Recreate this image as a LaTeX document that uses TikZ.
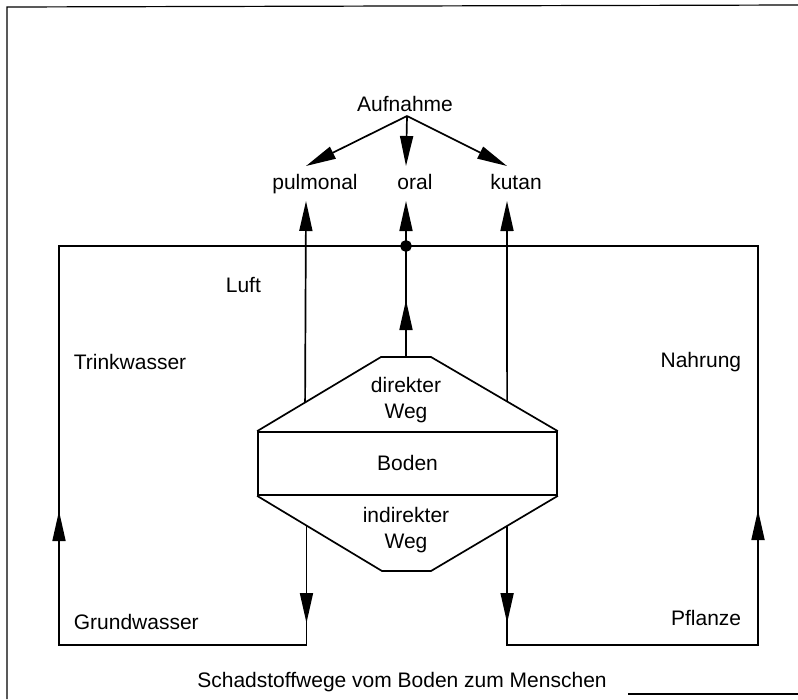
\documentclass[tikz,border=0pt]{standalone}
\usepackage{fontspec}
\setmainfont{Liberation Sans}
\usetikzlibrary{arrows.meta,calc}

\tikzset{
  pfeil/.style={-{Triangle[length=30pt,width=13pt]}},
  txt/.style={font=\fontsize{21}{26}\selectfont, inner sep=0pt, text height=14pt, text depth=0pt},
  txtzwei/.style={font=\fontsize{21}{26}\selectfont, inner sep=0pt, align=center},
  rahmen/.style={line width=1.2pt},
}

\begin{document}
\begin{tikzpicture}[x=1pt,y=-1pt,line width=1.7pt]
            \useasboundingbox (0,0) rectangle (798,699);
            % Rahmen
            \draw[rahmen] (7,699) -- (7,7) -- (798,5);
            \draw[rahmen] (628,694) -- (798,694);
            % Aufnahme
            \node[txt] (aufnahme) at (405,104) {Aufnahme};
            \coordinate (gabel) at (407,116);
            \foreach \name/\x in {pulmonal/306, oral/406, kutan/507} {
                    \node[txt] (\name) at (\x+9,182) {\name};
                    \coordinate (\name-spitze) at (\x,166);
                    \coordinate (\name-ende) at (\x,201);
                    \draw[pfeil] (gabel) -- (\name-spitze);
                }
            % Boden
            \node[draw, txt, minimum width=299pt, minimum height=63pt] (boden) at (407.5,463.5) {Boden};
            \coordinate (oben-l) at (381,357);
            \coordinate (oben-r) at (431,357);
            \coordinate (unten-l) at (382,571);
            \coordinate (unten-r) at (431,571);
            \draw (boden.north west) -- (oben-l) -- (oben-r) -- (boden.north east);
            \draw (boden.south west) -- (unten-l) -- (unten-r) -- (boden.south east);
            \node[txtzwei] (direkt) at (406,400) {direkter\\Weg};
            \node[txtzwei] (indirekt) at (406,530) {indirekter\\Weg};
            % direkter Weg
            \coordinate (p-start) at ($(boden.north west)!0.387!(oben-l)$);
            \coordinate (k-start) at ($(boden.north east)!0.4!(oben-r)$);
            \coordinate (o-start) at ($(oben-l)!0.5!(oben-r)$);
            \coordinate (punkt) at (406,246);
            \draw[pfeil] (p-start) -- (pulmonal-ende);
            \draw[pfeil] (k-start) -- (kutan-ende);
            \draw (o-start) -- (punkt);
            \draw[pfeil] (o-start) -- (406,300);
            \draw[pfeil] (punkt) -- (oral-ende);
            \filldraw[black] (punkt) circle (5pt);
            % indirekter Weg
            \coordinate (g-start) at ($(boden.south west)!0.395!(unten-l)$);
            \coordinate (n-start) at ($(boden.south east)!0.4!(unten-r)$);
            \coordinate (gw-ecke) at (59,645);
            \coordinate (tw-ecke) at (59,246);
            \coordinate (pf-ecke) at (758,645);
            \coordinate (na-ecke) at (758,246);
            \draw (g-start) -- (g-start |- gw-ecke) -- (gw-ecke) -- (tw-ecke) -- (na-ecke)
                -- (pf-ecke) -- (n-start |- pf-ecke) -- (n-start);
            \draw[pfeil] (g-start) -- (g-start |- 0,623);
            \draw[pfeil] (n-start) -- (n-start |- 0,623);
            \draw[pfeil] (gw-ecke) -- (59,511);
            \draw[pfeil] (pf-ecke) -- (758,510);
            % Beschriftung
            \node[txt, anchor=west] (luft) at (225,285) {Luft};
            \node[txt, anchor=west] (trinkwasser) at (73,362) {Trinkwasser};
            \node[txt, anchor=west] (grundwasser) at (73,622) {Grundwasser};
            \node[txt, anchor=east] (nahrung) at (742,360) {Nahrung};
            \node[txt, anchor=east] (pflanze) at (742,618) {Pflanze};
            \node[txt] (titel) at (402,680) {Schadstoffwege vom Boden zum Menschen};
        \end{tikzpicture}
\end{document}
